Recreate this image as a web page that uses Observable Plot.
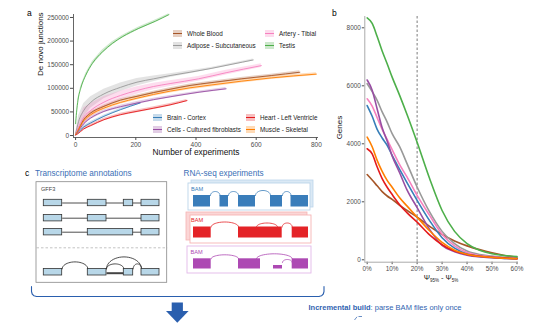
<!DOCTYPE html>
<html><head><meta charset="utf-8">
<script src="https://cdn.jsdelivr.net/npm/d3@7"></script>
<script src="https://cdn.jsdelivr.net/npm/@observablehq/plot@0.6"></script>
<style>
body{margin:0;background:#fff;}
#wrap{position:relative;width:540px;height:326px;overflow:hidden;font-family:"Liberation Sans",Arial,sans-serif;background:#fff;}
#wrap > svg, #wrap > figure{position:absolute;margin:0;}
.abs{position:absolute;white-space:nowrap;}
</style></head><body><div id="wrap"></div>
<script>
const tissues = ["Whole Blood","Adipose - Subcutaneous","Artery - Tibial","Testis","Brain - Cortex","Cells - Cultured fibroblasts","Heart - Left Ventricle","Muscle - Skeletal"];
const colors = ["#a65628","#999999","#f781bf","#4daf4a","#377eb8","#984ea3","#e41a1c","#ff7f00"];

// panel a: [number of experiments, de novo junctions, ribbon half-width]
const aWholeBlood = [[0,2000,1000],[6,9000,2000],[27,33500,3000],[50,47700,3000],[94,61800,3000],[149,75000,3000],[204,83000,3000],[259,91000,3000],[314,98000,3000],[380,106000,3000],[450,112000,3000],[550,120000,3000],[650,127000,3000],[745,134000,3000]];
const aAdipose = [[0,3000,2000],[10,30000,12000],[27,53000,15000],[50,70000,12000],[94,88000,10000],[149,102000,9000],[204,113000,8000],[259,120000,6000],[314,127000,4000],[380,134000,3000],[450,142000,2000],[520,151000,2000],[590,160000,2000]];
const aArtery = [[0,2000,1000],[6,12000,8000],[27,39000,20000],[50,53000,15000],[94,70600,12000],[149,84800,9000],[204,95400,8000],[259,103800,7000],[314,110000,6000],[408,120000,5000],[500,133000,5000],[617,148000,4000]];
const aTestis = [[0,25000,2000],[3,48000,3000],[8,75000,4000],[17,100000,4000],[34,128000,4000],[56,153000,4000],[89,177000,4000],[122,195000,3500],[155,209000,3000],[210,227000,3000],[265,242000,2500],[310,256000,2000]];
const aBrain = [[0,1000,500],[6,5000,1500],[27,18000,2500],[50,26500,2500],[94,40600,2500],[149,54700,2500],[215,69000,2000]];
const aCells = [[0,1500,800],[6,7000,2000],[27,25000,3000],[50,37000,3000],[94,51000,3000],[149,61000,3000],[204,68800,3000],[259,76000,3000],[314,82000,2500],[413,92000,2500],[500,99000,2500]];
const aHeart = [[0,1000,500],[6,3000,1500],[27,14000,3000],[50,21000,3000],[94,33500,3000],[149,44100,3000],[204,51200,3000],[260,58000,3000],[314,65000,3000],[370,74000,2500]];
const aMuscle = [[0,2000,1000],[6,8000,2500],[27,31000,4000],[50,44000,4000],[94,58000,4000],[149,70000,4000],[204,79000,4000],[259,87000,4000],[314,94000,4000],[380,101000,4000],[450,107000,4000],[550,115000,4000],[650,122000,3500],[800,130000,3000]];
const aTicksX = [0,200,400,600,800];
const aTicksY = [0,50000,100000,150000,200000,250000];

// panel b: psi difference (%) vs genes
const psi = [0,2,4,6,8,10,13,16,20,25,30,35,40,45,50,55,60];
const bWholeBlood = [2940,2750,2550,2350,2200,2080,1880,1700,1470,1150,870,650,480,350,240,150,90];
const bAdipose = [6070,5800,5500,5100,4750,4350,3900,3310,2510,1650,980,560,300,180,130,90,70];
const bArtery = [5550,5300,4900,4500,4150,3800,3280,2850,2220,1530,880,480,250,150,100,60,35];
const bTestis = [8340,8150,7700,7200,6760,6300,5670,5000,4050,2800,1700,980,560,330,210,150,110];
const bBrain = [5320,4950,4500,4200,3950,3600,3120,2650,2050,1350,760,400,200,120,80,50,35];
const bCells = [6200,5850,5200,4550,4100,3580,3000,2400,1800,1050,500,280,160,100,70,50,35];
const bHeart = [3830,3650,3200,2800,2500,2250,1900,1620,1300,860,520,300,180,120,90,60,40];
const bMuscle = [4230,3900,3430,3050,2740,2500,2140,1850,1470,1000,600,330,190,120,80,55,35];
const bTicksX = [0,10,20,30,40,50,60];
const bTicksY = [0,2000,4000,6000,8000];
const bCutoff = [20];

// panel c diagram (diagram units)
const gffRowsY = [202.5,217.7,231.7];
const transcriptExons = [
  [[43.3,61.7],[87.3,106],[123.3,132.7],[141,159]],
  [[43.3,61.7],[87.3,106],[141,159]],
  [[43.3,61.7],[87.3,132.7],[141,159]]
];
const graphY = 271.7;
const graphExons = [[43.3,61.7],[87.3,106],[123.3,132.7],[141,159]];
const graphArcs = [[61.7,87.3,7],[106,141,12],[106,123.3,5],[132.7,141,5]];
const retained = [[106,123.3]];
const bamColors = ["#3a7dba","#e42327","#ad49b3"];
const bamBorders = ["#bcd5ea","#f6b3b3","#e3b8e8"];
const bamBacks = ["#dbe9f5","#fbd6d6",null];
const bamFront = [[188,310,183,210],[190,311,215,243],[187,311,246,273]];
const bamBack = [[191,313,180,207],[186,307,212,240],null];
const covY = [[195,206.5],[226.5,237.5],[258.3,268.5]];
const covBlocks = [
  [[193,210],[219.5,228],[238,255],[270,282],[290.5,308]],
  [[193,210.7],[238,281.7],[291.7,308]],
  [[193,210.7],[238,260],[291.7,308]]
];
const covLow = [[2,273,282,265,268.5]];
const bamArcs = [
  [[210,219.5,195,4],[228,238,195,4],[255,270,195,5],[282,290.5,195,4]],
  [[210.7,238,226.5,5],[256,277,226.5,4],[281.7,291.7,226.5,4]],
  [[210.7,238,258.3,4],[256,291.7,258.3,5],[282,291.7,262,3]]
];

const FONT = '"Liberation Sans",Arial,sans-serif';
const wrap = document.getElementById("wrap");

// ---------- panel c (full page canvas) ----------
function arcPoints(list, base0, prefix) {
  const out = [];
  list.forEach((a, i) => {
    const [x1, x2] = a;
    const base = a.length > 3 ? a[2] : base0;
    const h = a.length > 3 ? a[3] : a[2];
    const c = (x2 - x1) / 2, m = (x1 + x2) / 2;
    for (let k = 0; k <= 24; k++) {
      const t = Math.PI * k / 24;
      out.push({id: prefix + i, x: m - c * Math.cos(t), y: base - h * Math.sin(t)});
    }
  });
  return out;
}
const exonRects = [];
transcriptExons.forEach((row, r) => row.forEach(([a, b]) => exonRects.push({x1: a, x2: b, y1: gffRowsY[r] - 3.2, y2: gffRowsY[r] + 3.2})));
graphExons.forEach(([a, b]) => exonRects.push({x1: a, x2: b, y1: graphY - 3.3, y2: graphY + 3.3}));
const intronLines = transcriptExons.map((row, r) => ({x1: row[0][1], x2: row[row.length - 1][0], y: gffRowsY[r]}));
const gArcs = arcPoints(graphArcs, graphY - 3.3, "g");
const covRects = [];
covBlocks.forEach((blocks, b) => blocks.forEach(([a, c]) => covRects.push({b, x1: a, x2: c, y1: covY[b][0], y2: covY[b][1]})));
covLow.forEach(([b, a, c, y1, y2]) => covRects.push({b, x1: a, x2: c, y1, y2}));
const bArcPts = [];
bamArcs.forEach((list, b) => arcPoints(list, 0, "b" + b + "_").forEach(p => bArcPts.push({...p, b})));
const bracket = [[31,286],[31,291],[31.7,293.5],[33.5,295.3],[36,296],[318.5,296],[321,295.3],[322.8,293.5],[323.5,291],[323.5,286]];
const arrowShaft = [{x1:171.7,x2:182.9,y1:302.5,y2:311}];
const arrowHead = [{x:166,y1:311,y2:311},{x:177.3,y1:311,y2:322.7},{x:188.6,y1:311,y2:311}];
const labelsC = [
  {x:26.5,y:13,t:"a",w:"bold",s:8.5,f:"#000"},
  {x:331.5,y:13,t:"b",w:"bold",s:8.5,f:"#000"},
  {x:24.5,y:172.7,t:"c",w:"bold",s:8.5,f:"#000"},
  {x:34.5,y:172.7,t:"Transcriptome annotations",w:"normal",s:8.2,f:"#3b6fb6"},
  {x:183,y:172.7,t:"RNA-seq experiments",w:"normal",s:8.2,f:"#3b6fb6"},
  {x:40.5,y:188.5,t:"GFF3",w:"normal",s:5.6,f:"#444"},
  {x:190.5,y:188.3,t:"BAM",w:"normal",s:5.6,f:bamColors[0]},
  {x:190.5,y:220,t:"BAM",w:"normal",s:5.6,f:bamColors[1]},
  {x:190,y:251.5,t:"BAM",w:"normal",s:5.6,f:bamColors[2]}
];
const backRects = bamBack.map((r, i) => r && {x1:r[0],x2:r[1],y1:r[2],y2:r[3],fill:bamBacks[i],stroke:bamBorders[i]}).filter(Boolean);
const frontRects = bamFront.map((r, i) => ({x1:r[0],x2:r[1],y1:r[2],y2:r[3],stroke:bamBorders[i]}));
const iconLines = [{x1:354,y1:319.5,x2:356.5,y2:316.3},{x1:358,y1:316,x2:361.5,y2:316}];

const plotC = Plot.plot({
  width: 540, height: 326, margin: 0,
  x: {domain: [0, 540], range: [0, 540], axis: null},
  y: {domain: [0, 326], range: [0, 326], axis: null},
  style: {background: "transparent", fontFamily: FONT, overflow: "visible"},
  marks: [
    Plot.rect([{x1:36,x2:166.7,y1:181.7,y2:282.3}], {x1:"x1",x2:"x2",y1:"y1",y2:"y2",fill:"white",stroke:"#888",strokeWidth:0.8}),
    Plot.link([{x1:36,x2:166.7,y:247.3}], {x1:"x1",x2:"x2",y1:"y",y2:"y",stroke:"#aaa",strokeWidth:0.7,strokeDasharray:"2.5,2"}),
    Plot.link(intronLines, {x1:"x1",x2:"x2",y1:"y",y2:"y",stroke:"#222",strokeWidth:0.8}),
    Plot.link(retained, {x1:d=>d[0],x2:d=>d[1],y1:()=>graphY+1,y2:()=>graphY+1,stroke:"#444",strokeWidth:2}),
    Plot.line(gArcs, {x:"x",y:"y",z:"id",stroke:"#222",strokeWidth:0.8}),
    Plot.rect(exonRects, {x1:"x1",x2:"x2",y1:"y1",y2:"y2",fill:"#b8d7e8",stroke:"#333",strokeWidth:0.8}),
    Plot.rect(backRects, {x1:"x1",x2:"x2",y1:"y1",y2:"y2",fill:"fill",stroke:"stroke",strokeWidth:0.8}),
    Plot.rect(frontRects, {x1:"x1",x2:"x2",y1:"y1",y2:"y2",fill:"white",stroke:"stroke",strokeWidth:0.9}),
    Plot.rect(covRects, {x1:"x1",x2:"x2",y1:"y1",y2:"y2",fill:d=>bamColors[d.b]}),
    Plot.line(bArcPts, {x:"x",y:"y",z:"id",stroke:d=>bamColors[d.b],strokeWidth:0.8}),
    Plot.line(bracket, {x:d=>d[0],y:d=>d[1],stroke:"#2a5fae",strokeWidth:1.1}),
    Plot.rect(arrowShaft, {x1:"x1",x2:"x2",y1:"y1",y2:"y2",fill:"#2a5fae"}),
    Plot.areaY(arrowHead, {x:"x",y1:"y1",y2:"y2",fill:"#2a5fae"}),
    Plot.link(iconLines, {x1:"x1",y1:"y1",x2:"x2",y2:"y2",stroke:"#2a5fae",strokeWidth:0.7}),
    Plot.text(labelsC, {x:"x",y:"y",text:"t",fontWeight:"w",fontSize:"s",fill:"f",textAnchor:"start",lineAnchor:"middle"})
  ]
});
wrap.appendChild(plotC);

// ---------- panel a ----------
const seriesA = [aWholeBlood,aAdipose,aArtery,aTestis,aBrain,aCells,aHeart,aMuscle];
const rowsA = [];
seriesA.forEach((arr, i) => arr.forEach(([x, y, w]) => rowsA.push({tissue: tissues[i], x, y, lo: Math.max(0, y - w), hi: y + w})));
const plotA = Plot.plot({
  width: 330, height: 160,
  marginLeft: 73, marginRight: 12, marginTop: 14, marginBottom: 23,
  style: {background: "transparent", fontFamily: FONT, fontSize: "6.5px", color: "#4d4d4d", overflow: "visible"},
  x: {domain: [-7, 807], ticks: aTicksX, tickSize: 3, tickPadding: 1.5, label: null, tickFormat: d3.format("d")},
  y: {domain: [-4200, 256300], ticks: aTicksY, tickSize: 3, tickPadding: 1.5, label: null, tickFormat: d3.format("d")},
  color: {domain: tissues, range: colors},
  marks: [
    Plot.areaY(rowsA, {x: "x", y1: "lo", y2: "hi", z: "tissue", fill: "tissue", fillOpacity: 0.27}),
    Plot.line(rowsA, {x: "x", y: "y", z: "tissue", stroke: "tissue", strokeWidth: 0.9, curve: "monotone-x"}),
    Plot.ruleX([-7], {stroke: "#555", strokeWidth: 0.9}),
    Plot.ruleY([-4200], {stroke: "#555", strokeWidth: 0.9}),
    Plot.text(["De novo junctions"], {frameAnchor: "left", dx: -33, rotate: -90, fontSize: 8, fill: "#111"}),
    Plot.text(["Number of experiments"], {frameAnchor: "bottom", dy: 17.5, fontSize: 8.4, fill: "#111"})
  ]
});
plotA.style.left = "0px"; plotA.style.top = "0px";
wrap.appendChild(plotA);

// ---------- panel b ----------
const seriesB = [bWholeBlood,bAdipose,bArtery,bTestis,bBrain,bCells,bHeart,bMuscle];
const rowsB = [];
seriesB.forEach((arr, i) => arr.forEach((g, j) => rowsB.push({tissue: tissues[i], x: psi[j], y: g})));
const plotB = Plot.plot({
  width: 220, height: 290,
  marginLeft: 44.3, marginRight: 22, marginTop: 16, marginBottom: 28.3,
  style: {background: "transparent", fontFamily: FONT, fontSize: "6.4px", color: "#4d4d4d", overflow: "visible"},
  x: {domain: [-0.95, 60.6], ticks: bTicksX, tickSize: 2.5, tickPadding: 1.5, label: null, tickFormat: d => d + "%"},
  y: {domain: [-83, 8390], ticks: bTicksY, tickSize: 2.5, tickPadding: 1.5, label: null, tickFormat: d3.format("d")},
  color: {domain: tissues, range: colors},
  marks: [
    Plot.ruleX(bCutoff, {stroke: "#444", strokeWidth: 0.7, strokeDasharray: "2.5,2"}),
    Plot.line(rowsB, {x: "x", y: "y", z: "tissue", stroke: "tissue", strokeWidth: 1.6, curve: "monotone-x"}),
    Plot.ruleX([-0.95], {stroke: "#aaa", strokeWidth: 1}),
    Plot.ruleY([-83], {stroke: "#aaa", strokeWidth: 1}),
    Plot.text(["Genes"], {frameAnchor: "left", dx: -25, rotate: -90, fontSize: 8, fill: "#111"})
  ]
});
plotB.style.left = "320px"; plotB.style.top = "0px";
wrap.appendChild(plotB);

// ---------- HTML overlays: legends and labels ----------
function addDiv(html, css) {
  const d = document.createElement("div");
  d.className = "abs";
  d.innerHTML = html;
  Object.assign(d.style, css);
  wrap.appendChild(d);
  return d;
}
const legendLayout = [[0,173,33],[1,173,45],[2,265,33],[3,265,45],[4,153,117],[5,153,129],[6,246,117],[7,246,129]];
legendLayout.forEach(([i, kx, cy]) => {
  addDiv("", {left: kx + "px", top: (cy - 3.5) + "px", width: "9px", height: "7px", background: colors[i] + "48"});
  addDiv("", {left: kx + "px", top: (cy - 0.5) + "px", width: "9px", height: "1px", background: colors[i]});
  addDiv(tissues[i], {left: (kx + 14) + "px", top: (cy - 4.5) + "px", fontSize: "6.3px", lineHeight: "9px", color: "#222"});
});
addDiv('&Psi;<sub style="font-size:4.5px">95%</sub> - &Psi;<sub style="font-size:4.5px">5%</sub>', {left: "441px", top: "279px", transform: "translate(-50%,-50%)", fontSize: "7.5px", color: "#222", lineHeight: "9px"});
addDiv('<b>Incremental build</b>: parse BAM files only once', {left: "308.5px", top: "307px", transform: "translateY(-50%)", fontSize: "7.5px", color: "#2f63b0", lineHeight: "9px"});
</script></body></html>
